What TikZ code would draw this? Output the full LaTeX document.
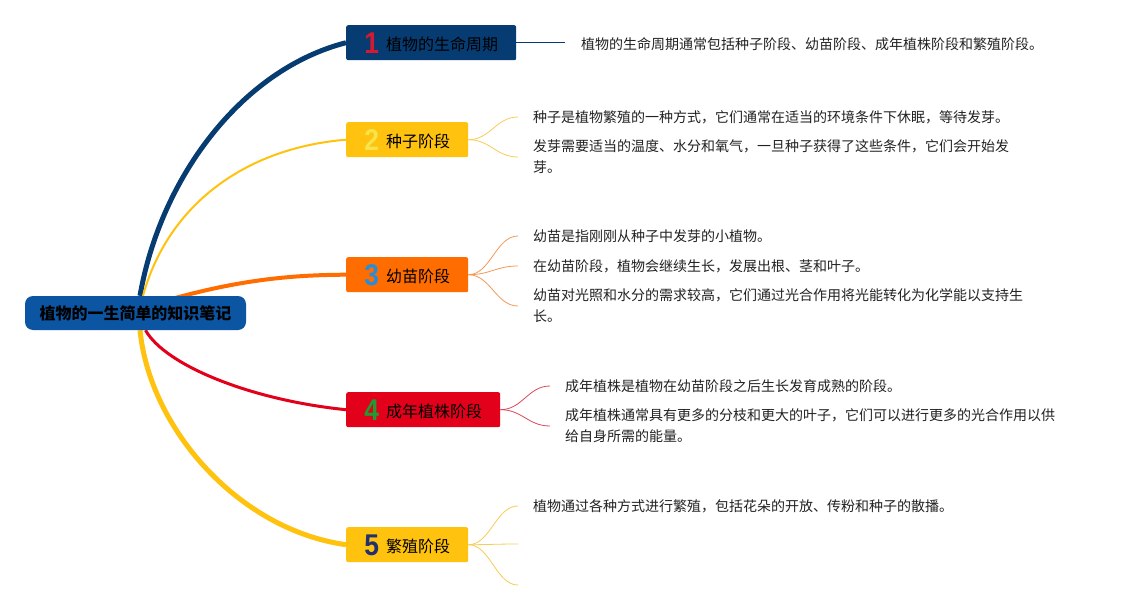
\documentclass[tikz,border=0pt]{standalone}
\usepackage{fontspec}
\usepackage{graphicx}
\setmainfont{Noto Sans CJK SC}
\newfontfamily\numfont{Liberation Sans Bold}
\usetikzlibrary{backgrounds}
\definecolor{navy}{HTML}{063C72}
\definecolor{rootblue}{HTML}{0C55A2}
\definecolor{gold}{HTML}{FFC20E}
\definecolor{orng}{HTML}{FF6C00}
\definecolor{rred}{HTML}{E2001A}
\definecolor{numA}{HTML}{D5192E}
\definecolor{numB}{HTML}{F8E34B}
\definecolor{numC}{HTML}{2A8CD8}
\definecolor{numD}{HTML}{1E9B33}
\definecolor{numE}{HTML}{23306E}
\definecolor{subY}{HTML}{F7CD55}
\definecolor{subO}{HTML}{F39A55}
\definecolor{subR}{HTML}{D9485A}
\definecolor{txt}{HTML}{222222}
\newcommand{\stnum}[2]{\rule[-3pt]{0pt}{27pt}{\numfont\fontsize{30}{30}\selectfont\color{#1}\scalebox{0.88}[1]{#2}}\hspace{7pt}}
\newcommand{\stlab}[1]{\raisebox{2.5pt}{#1}}
\tikzset{
  stagebox/.style={rectangle, rounded corners=2pt, minimum height=35pt, inner sep=0pt,
    anchor=north west, font=\fontsize{16}{16}\selectfont, text=black},
  notetext/.style={anchor=west, inner sep=0pt, align=left,
    font=\fontsize{14}{21}\selectfont, text=txt},
  subline/.style={line width=0.8pt},
}
\begin{document}
\begin{tikzpicture}[x=1pt,y=-1pt]
\useasboundingbox (0,0) rectangle (1125,610);

% root
\node[rectangle, rounded corners=8pt, fill=rootblue, minimum width=221pt, minimum height=34pt,
  inner sep=0pt, font=\bfseries\fontsize{16}{16}\selectfont, text=black] (root) at (135.5,313) {植物的一生简单的知识笔记};

% stages
\node[stagebox, fill=navy, minimum width=170pt] (n1) at (346,25) {\stnum{numA}{1}\stlab{植物的生命周期}};
\node[stagebox, fill=gold, minimum width=122pt] (n2) at (346,122) {\stnum{numB}{2}\stlab{种子阶段}};
\node[stagebox, fill=orng, minimum width=122pt] (n3) at (346,257) {\stnum{numC}{3}\stlab{幼苗阶段}};
\node[stagebox, fill=rred, minimum width=154pt] (n4) at (346,392) {\stnum{numD}{4}\stlab{成年植株阶段}};
\node[stagebox, fill=gold, minimum width=122pt] (n5) at (346,527) {\stnum{numE}{5}\stlab{繁殖阶段}};

% notes
\node[notetext] (t1) at (581,44) {植物的生命周期通常包括种子阶段、幼苗阶段、成年植株阶段和繁殖阶段。};
\node[notetext] (t21) at (533,117) {种子是植物繁殖的一种方式，它们通常在适当的环境条件下休眠，等待发芽。};
\node[notetext] (t22) at (533,157) {发芽需要适当的温度、水分和氧气，一旦种子获得了这些条件，它们会开始发\\芽。};
\node[notetext] (t31) at (533,236) {幼苗是指刚刚从种子中发芽的小植物。};
\node[notetext] (t32) at (533,266) {在幼苗阶段，植物会继续生长，发展出根、茎和叶子。};
\node[notetext] (t33) at (533,306) {幼苗对光照和水分的需求较高，它们通过光合作用将光能转化为化学能以支持生\\长。};
\node[notetext] (t41) at (565,386) {成年植株是植物在幼苗阶段之后生长发育成熟的阶段。};
\node[notetext] (t42) at (565,426) {成年植株通常具有更多的分枝和更大的叶子，它们可以进行更多的光合作用以供\\给自身所需的能量。};
\node[notetext] (t51) at (533,506) {植物通过各种方式进行繁殖，包括花朵的开放、传粉和种子的散播。};
\coordinate (c52) at (518,544);
\coordinate (c53) at (518,585);

\begin{pgfonlayer}{background}
\fill[white] (0,0) rectangle (1125,610);
% main branches
\draw[navy, line width=5pt] ([xshift=4.5pt]root.north) .. controls (160,180) and (240,70) .. (n1.west);
\draw[gold, line width=2pt] ([xshift=7.5pt]root.north) .. controls (168,205) and (245,148) .. (n2.west);
\draw[orng, line width=4pt] ([xshift=-10pt]root.center) .. controls (220,282) and (280,275) .. (n3.west);
\draw[rred, line width=3pt] ([xshift=10pt]root.south) .. controls (165,365) and (250,400) .. (n4.west);
\draw[gold, line width=5pt] ([xshift=4.5pt]root.south) .. controls (150,430) and (240,530) .. (n5.west);
% sub branches
\draw[navy, line width=0.8pt] (n1.east) -- ([xshift=-16pt]n1.east -| t1.west);
\draw[subY, subline] (n2.east) .. controls +(22,0) and +(-22,0) .. ([xshift=-15pt]t21.west);
\draw[subY, subline] (n2.east) .. controls +(22,0) and +(-22,0) .. ([xshift=-15pt]t22.west);
\draw[subO, subline] (n3.east) .. controls +(22,0) and +(-22,0) .. ([xshift=-15pt]t31.west);
\draw[subO, subline] (n3.east) .. controls +(22,0) and +(-22,0) .. ([xshift=-15pt]t32.west);
\draw[subO, subline] (n3.east) .. controls +(22,0) and +(-22,0) .. ([xshift=-15pt]t33.west);
\draw[subR, subline] (n4.east) .. controls +(22,0) and +(-22,0) .. ([xshift=-15pt]t41.west);
\draw[subR, subline] (n4.east) .. controls +(22,0) and +(-22,0) .. ([xshift=-15pt]t42.west);
\draw[subY, subline] (n5.east) .. controls +(22,0) and +(-22,0) .. ([xshift=-15pt]t51.west);
\draw[subY, subline] (n5.east) .. controls +(22,0) and +(-22,0) .. (c52);
\draw[subY, subline] (n5.east) .. controls +(22,0) and +(-22,0) .. (c53);
\end{pgfonlayer}
\end{tikzpicture}
\end{document}
